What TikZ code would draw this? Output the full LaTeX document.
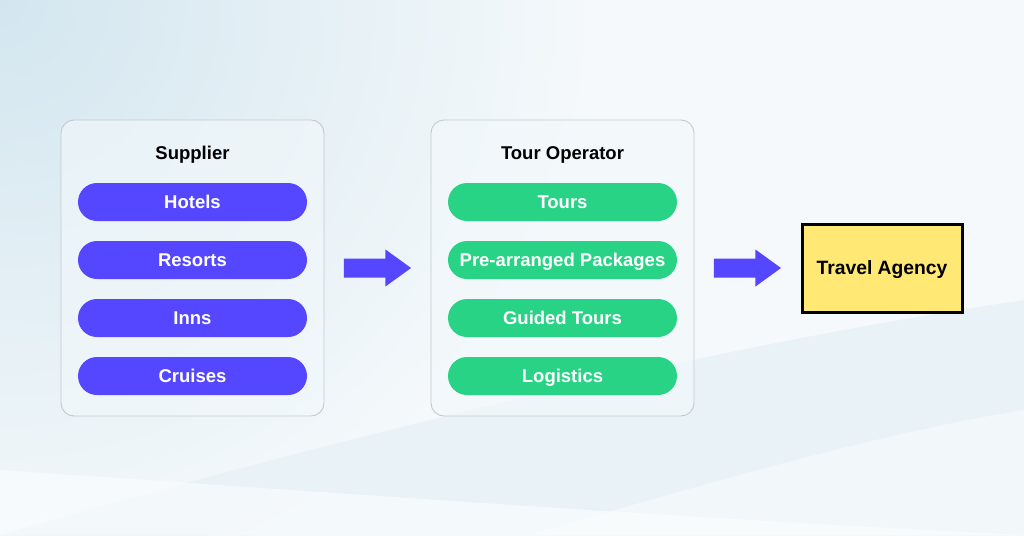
\documentclass[tikz,border=0pt]{standalone}
\usepackage{fontspec}
\setmainfont{Liberation Sans}
\definecolor{bgA}{HTML}{D3E6EF}
\definecolor{bgB}{HTML}{F5F9FB}
\definecolor{panelline}{HTML}{C4C9CE}
\definecolor{panelfill}{HTML}{F2F8FB}
\definecolor{violet}{HTML}{5546FF}
\definecolor{mint}{HTML}{28D386}
\definecolor{sun}{HTML}{FFE873}
\definecolor{swoosh}{HTML}{E2EFF5}
\tikzset{
  panel/.style={draw=panelline, line width=0.9pt, fill=panelfill, fill opacity=0.6, draw opacity=1, rounded corners=13pt, minimum width=263pt, minimum height=296pt},
  paneltitle/.style={font=\fontsize{18.5}{22}\selectfont\bfseries, text=black, text height=13.3pt, text depth=0pt, inner sep=0pt},
  pill/.style={rounded corners=19pt, minimum width=229pt, minimum height=38pt, inner sep=0pt, text=white, font=\fontsize{18.5}{22}\selectfont\bfseries, text height=13.3pt, text depth=0pt},
  vpill/.style={pill, fill=violet},
  gpill/.style={pill, fill=mint},
  bigarrow/.style={fill=violet},
  agency/.style={draw=black, line width=3pt, fill=sun, minimum width=160pt, minimum height=88pt, font=\fontsize{19.3}{23}\selectfont\bfseries, text height=13.9pt, text depth=0pt}
}
\begin{document}
\begin{tikzpicture}[x=1pt,y=-1pt]
\useasboundingbox (0,0) rectangle (1024,535);
% background
\fill[bgB] (0,0) rectangle (1024,535);
\shade[inner color=bgA, outer color=bgB] (-600,-600) rectangle (600,600);
\fill[bgB] (600,-1) rectangle (1025,536);
\fill[swoosh, opacity=0.6] (0,535) .. controls (400,420) and (750,340) .. (1024,300) -- (1024,535) -- cycle;
\fill[white, opacity=0.5] (0,470) .. controls (300,490) and (700,520) .. (1024,535) -- (0,535) -- cycle;
\fill[white, opacity=0.45] (530,535) .. controls (750,470) and (900,430) .. (1024,410) -- (1024,535) -- cycle;
% panels
\node[panel] (sup) at (192.5,268) {};
\node[panel] (tour) at (562.5,268) {};
\node[paneltitle] (supt) at (192.5,153) {Supplier};
\node[paneltitle] (tourt) at (562.5,153) {Tour Operator};
% pills
\node[vpill] (hotels) at (192.5,202) {Hotels};
\node[vpill] (resorts) at (192.5,260) {Resorts};
\node[vpill] (inns) at (192.5,318) {Inns};
\node[vpill] (cruises) at (192.5,376) {Cruises};
\node[gpill] (tours) at (562.5,202) {Tours};
\node[gpill] (pre) at (562.5,260) {Pre-arranged Packages};
\node[gpill] (guided) at (562.5,318) {Guided Tours};
\node[gpill] (logi) at (562.5,376) {Logistics};
% agency
\node[agency] (agency) at (882,268) {Travel Agency};
% arrows
\fill[bigarrow] ([xshift=19.5pt,yshift=-9.5pt]sup.east) -- ([xshift=61pt,yshift=-9.5pt]sup.east) -- ([xshift=61pt,yshift=-18.5pt]sup.east) -- ([xshift=-19.5pt]tour.west) -- ([xshift=61pt,yshift=18.5pt]sup.east) -- ([xshift=61pt,yshift=9.5pt]sup.east) -- ([xshift=19.5pt,yshift=9.5pt]sup.east) -- cycle;
\fill[bigarrow] ([xshift=19.5pt,yshift=-9.5pt]tour.east) -- ([xshift=61pt,yshift=-9.5pt]tour.east) -- ([xshift=61pt,yshift=-18.5pt]tour.east) -- ([xshift=-19.5pt]agency.west) -- ([xshift=61pt,yshift=18.5pt]tour.east) -- ([xshift=61pt,yshift=9.5pt]tour.east) -- ([xshift=19.5pt,yshift=9.5pt]tour.east) -- cycle;
\end{tikzpicture}
\end{document}
